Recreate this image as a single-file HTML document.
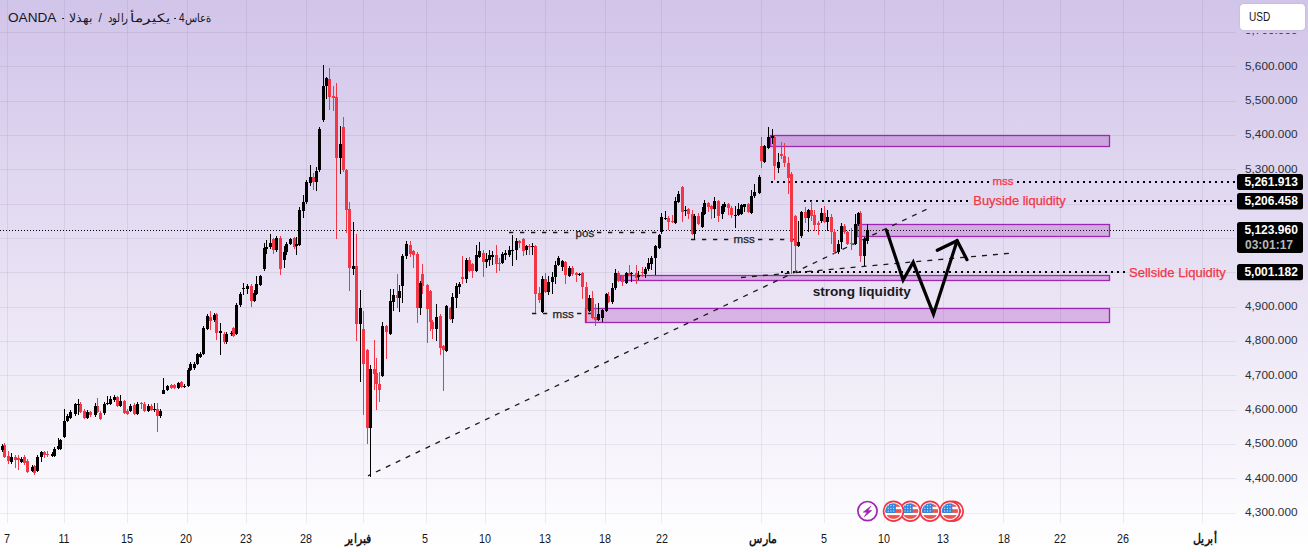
<!DOCTYPE html><html><head><meta charset="utf-8"><style>
html,body{margin:0;padding:0;width:1308px;height:552px;overflow:hidden;}
body{background:linear-gradient(to bottom, #d1c4e9 0%, #ffffff 100%);font-family:"Liberation Sans",sans-serif;position:relative;}
svg{position:absolute;left:0;top:0;}
.t{position:absolute;white-space:nowrap;line-height:1;}
</style></head><body>
<svg width="1308" height="552" viewBox="0 0 1308 552">
<path d="M0 32.5H1236 M0 66.5H1236 M0 101.5H1236 M0 135.5H1236 M0 169.5H1236 M0 204.5H1236 M0 238.5H1236 M0 272.5H1236 M0 307.5H1236 M0 341.5H1236 M0 375.5H1236 M0 410.5H1236 M0 444.5H1236 M0 478.5H1236 M0 513.5H1236 M7.5 0V523 M64.5 0V523 M127.5 0V523 M187.5 0V523 M246.5 0V523 M306.5 0V523 M363.5 0V523 M426.5 0V523 M485.5 0V523 M545.5 0V523 M605.5 0V523 M661.5 0V523 M761.5 0V523 M824.5 0V523 M884.5 0V523 M943.5 0V523 M1003.5 0V523 M1060.5 0V523 M1123.5 0V523 M1202.5 0V523" stroke="rgba(70,70,95,0.095)" stroke-width="1" fill="none"/>
<rect x="770.5" y="135.5" width="339.0" height="11.0" fill="rgba(156,39,176,0.26)" stroke="#9c27b0" stroke-width="1.3"/>
<rect x="857.5" y="224.5" width="252.0" height="12.0" fill="rgba(156,39,176,0.26)" stroke="#9c27b0" stroke-width="1.3"/>
<rect x="620.5" y="275.5" width="489.0" height="5.0" fill="rgba(156,39,176,0.26)" stroke="#9c27b0" stroke-width="1.3"/>
<rect x="585.5" y="308.5" width="524.0" height="14.0" fill="rgba(156,39,176,0.26)" stroke="#9c27b0" stroke-width="1.3"/>
<path d="M0 230.5H1235" stroke="#000" stroke-width="1" stroke-dasharray="1 2" fill="none" shape-rendering="crispEdges"/>
<path d="M771 182H990" stroke="#000" stroke-width="2" stroke-dasharray="2 4" fill="none" shape-rendering="crispEdges"/>
<path d="M1017 182H1236" stroke="#000" stroke-width="2" stroke-dasharray="2 4" fill="none" shape-rendering="crispEdges"/>
<path d="M804 201H968" stroke="#000" stroke-width="2" stroke-dasharray="2 4" fill="none" shape-rendering="crispEdges"/>
<path d="M1074 201H1233" stroke="#000" stroke-width="2" stroke-dasharray="2 4" fill="none" shape-rendering="crispEdges"/>
<path d="M781 272H1126" stroke="#000" stroke-width="2" stroke-dasharray="2 4" fill="none" shape-rendering="crispEdges"/>
<path d="M368 475.8L927 209.1" stroke="#1a1a1a" stroke-width="1.3" stroke-dasharray="5 6" stroke-dashoffset="2.24" fill="none"/>
<path d="M741 277.5L1009 253.3" stroke="#1a1a1a" stroke-width="1.3" stroke-dasharray="5 6" stroke-dashoffset="0" fill="none"/>
<path d="M509 232.5L571 232.5" stroke="#1a1a1a" stroke-width="1.3" stroke-dasharray="4.3 6.7" stroke-dashoffset="0" fill="none"/>
<path d="M597 232.5L659 232.5" stroke="#1a1a1a" stroke-width="1.3" stroke-dasharray="4.3 6.7" stroke-dashoffset="0" fill="none"/>
<path d="M532 313.5H548" stroke="#1a1a1a" stroke-width="1.3" stroke-dasharray="4.3 6.7" fill="none"/>
<path d="M577 313.5H592" stroke="#1a1a1a" stroke-width="1.3" stroke-dasharray="4.3 6.7" fill="none"/>
<path d="M691 239.5H729" stroke="#1a1a1a" stroke-width="1.3" stroke-dasharray="4.3 6.7" fill="none"/>
<path d="M758 239.5H795" stroke="#1a1a1a" stroke-width="1.3" stroke-dasharray="4.3 6.7" fill="none"/>
<path d="M4 443h1V458h-1Z M8 451h1V464h-1Z M15 455h1V468h-1Z M18 455h1V470h-1Z M24 455h1V465h-1Z M27 459h1V473h-1Z M34 465h1V475h-1Z M44 451h1V458h-1Z M47 451h1V457h-1Z M80 402h1V413h-1Z M84 409h1V419h-1Z M90 411h1V417h-1Z M97 398h1V413h-1Z M100 411h1V420h-1Z M117 396h1V407h-1Z M124 400h1V414h-1Z M127 409h1V415h-1Z M134 403h1V415h-1Z M141 402h1V409h-1Z M144 402h1V412h-1Z M151 404h1V411h-1Z M157 403h1V432h-1Z M171 384h1V389h-1Z M174 384h1V389h-1Z M181 381h1V388h-1Z M210 311h1V330h-1Z M216 313h1V340h-1Z M224 332h1V344h-1Z M233 327h1V337h-1Z M251 284h1V307h-1Z M273 238h1V254h-1Z M280 236h1V275h-1Z M294 237h1V249h-1Z M313 173h1V190h-1Z M329 68h1V110h-1Z M333 86h1V111h-1Z M336 83h1V239h-1Z M343 117h1V172h-1Z M346 169h1V233h-1Z M349 202h1V291h-1Z M356 234h1V341h-1Z M363 311h1V415h-1Z M367 349h1V444h-1Z M374 340h1V390h-1Z M376 358h1V410h-1Z M379 372h1V402h-1Z M386 325h1V359h-1Z M397 274h1V308h-1Z M410 241h1V257h-1Z M413 250h1V268h-1Z M417 252h1V323h-1Z M422 264h1V294h-1Z M427 284h1V343h-1Z M430 290h1V331h-1Z M432 320h1V339h-1Z M440 314h1V355h-1Z M443 345h1V391h-1Z M450 307h1V320h-1Z M462 256h1V284h-1Z M469 257h1V272h-1Z M472 263h1V278h-1Z M483 250h1V277h-1Z M496 245h1V273h-1Z M499 258h1V271h-1Z M519 240h1V248h-1Z M523 238h1V256h-1Z M529 244h1V255h-1Z M535 245h1V313h-1Z M539 287h1V303h-1Z M545 273h1V293h-1Z M565 261h1V284h-1Z M572 266h1V276h-1Z M576 272h1V282h-1Z M582 272h1V299h-1Z M586 282h1V322h-1Z M592 291h1V319h-1Z M595 304h1V326h-1Z M608 292h1V303h-1Z M618 271h1V282h-1Z M622 275h1V286h-1Z M629 265h1V276h-1Z M636 265h1V284h-1Z M642 267h1V277h-1Z M668 216h1V230h-1Z M672 215h1V223h-1Z M682 186h1V222h-1Z M688 208h1V219h-1Z M692 210h1V235h-1Z M698 213h1V225h-1Z M708 202h1V212h-1Z M711 205h1V219h-1Z M718 200h1V222h-1Z M728 203h1V215h-1Z M731 206h1V218h-1Z M748 203h1V213h-1Z M761 137h1V168h-1Z M774 136h1V180h-1Z M781 142h1V159h-1Z M784 143h1V167h-1Z M788 157h1V194h-1Z M791 172h1V274h-1Z M795 215h1V272h-1Z M805 207h1V223h-1Z M811 201h1V221h-1Z M814 210h1V231h-1Z M818 221h1V235h-1Z M824 206h1V223h-1Z M831 214h1V244h-1Z M834 229h1V254h-1Z M844 224h1V234h-1Z M847 231h1V245h-1Z M851 228h1V250h-1Z M860 211h1V262h-1Z M3 445h3V457h-3Z M7 456h3V461h-3Z M14 457h3V460h-3Z M17 458h3V460h-3Z M23 457h3V463h-3Z M26 461h3V472h-3Z M33 466h3V473h-3Z M43 452h3V455h-3Z M46 454h3V455h-3Z M79 404h3V412h-3Z M83 411h3V418h-3Z M89 412h3V415h-3Z M96 406h3V412h-3Z M99 413h3V419h-3Z M116 397h3V406h-3Z M123 401h3V413h-3Z M126 411h3V414h-3Z M133 405h3V414h-3Z M140 403h3V404h-3Z M143 404h3V411h-3Z M150 406h3V410h-3Z M156 409h3V416h-3Z M170 385h3V388h-3Z M173 385h3V388h-3Z M180 382h3V387h-3Z M209 317h3V321h-3Z M215 314h3V333h-3Z M223 334h3V342h-3Z M232 328h3V336h-3Z M250 286h3V301h-3Z M272 239h3V250h-3Z M279 238h3V269h-3Z M293 238h3V247h-3Z M312 177h3V182h-3Z M328 79h3V97h-3Z M332 96h3V98h-3Z M335 97h3V158h-3Z M342 127h3V170h-3Z M345 170h3V210h-3Z M348 209h3V268h-3Z M355 266h3V324h-3Z M362 329h3V364h-3Z M366 350h3V428h-3Z M373 369h3V374h-3Z M375 373h3V384h-3Z M378 384h3V390h-3Z M385 326h3V332h-3Z M396 295h3V298h-3Z M409 245h3V254h-3Z M412 251h3V255h-3Z M416 254h3V308h-3Z M421 274h3V286h-3Z M426 285h3V309h-3Z M429 291h3V322h-3Z M431 322h3V329h-3Z M439 316h3V348h-3Z M442 346h3V350h-3Z M449 308h3V319h-3Z M461 277h3V279h-3Z M468 260h3V271h-3Z M471 264h3V271h-3Z M482 253h3V262h-3Z M495 255h3V264h-3Z M498 263h3V264h-3Z M518 241h3V243h-3Z M522 239h3V251h-3Z M528 246h3V247h-3Z M534 246h3V294h-3Z M538 293h3V300h-3Z M544 279h3V292h-3Z M564 262h3V275h-3Z M571 268h3V274h-3Z M575 273h3V275h-3Z M581 273h3V287h-3Z M585 287h3V308h-3Z M591 298h3V318h-3Z M594 317h3V320h-3Z M607 296h3V302h-3Z M617 273h3V281h-3Z M621 276h3V282h-3Z M628 273h3V275h-3Z M635 273h3V278h-3Z M641 272h3V273h-3Z M667 218h3V222h-3Z M671 221h3V222h-3Z M681 187h3V212h-3Z M687 209h3V214h-3Z M691 214h3V234h-3Z M697 216h3V224h-3Z M707 203h3V207h-3Z M710 206h3V209h-3Z M717 201h3V216h-3Z M727 204h3V208h-3Z M730 208h3V215h-3Z M747 204h3V212h-3Z M760 146h3V161h-3Z M773 137h3V166h-3Z M780 154h3V156h-3Z M783 156h3V163h-3Z M787 163h3V178h-3Z M790 174h3V242h-3Z M794 216h3V246h-3Z M804 212h3V218h-3Z M810 210h3V216h-3Z M813 215h3V225h-3Z M817 223h3V225h-3Z M823 213h3V222h-3Z M830 217h3V232h-3Z M833 232h3V252h-3Z M843 226h3V232h-3Z M846 232h3V244h-3Z M850 243h3V244h-3Z M859 213h3V256h-3Z" fill="#f23645" shape-rendering="crispEdges"/>
<path d="M2 444h1V452h-1Z M11 453h1V464h-1Z M21 457h1V463h-1Z M32 465h1V472h-1Z M37 455h1V472h-1Z M41 451h1V462h-1Z M52 452h1V457h-1Z M54 447h1V457h-1Z M58 438h1V450h-1Z M60 439h1V450h-1Z M64 409h1V438h-1Z M67 414h1V422h-1Z M70 410h1V419h-1Z M75 403h1V416h-1Z M78 399h1V415h-1Z M87 410h1V419h-1Z M95 403h1V417h-1Z M104 402h1V415h-1Z M107 396h1V405h-1Z M110 396h1V405h-1Z M114 395h1V402h-1Z M120 395h1V407h-1Z M130 404h1V412h-1Z M137 402h1V415h-1Z M148 404h1V412h-1Z M154 403h1V412h-1Z M160 409h1V418h-1Z M163 378h1V394h-1Z M167 385h1V391h-1Z M178 382h1V389h-1Z M184 384h1V388h-1Z M188 368h1V387h-1Z M190 362h1V371h-1Z M194 362h1V370h-1Z M197 353h1V365h-1Z M200 352h1V358h-1Z M203 326h1V355h-1Z M207 314h1V330h-1Z M214 313h1V322h-1Z M220 323h1V355h-1Z M226 332h1V344h-1Z M231 331h1V336h-1Z M236 303h1V335h-1Z M240 292h1V307h-1Z M243 283h1V295h-1Z M247 284h1V294h-1Z M254 290h1V302h-1Z M256 276h1V295h-1Z M260 275h1V286h-1Z M264 243h1V271h-1Z M266 240h1V254h-1Z M270 234h1V249h-1Z M276 236h1V252h-1Z M284 246h1V268h-1Z M286 242h1V255h-1Z M290 238h1V245h-1Z M296 237h1V255h-1Z M299 207h1V246h-1Z M303 195h1V218h-1Z M306 180h1V204h-1Z M310 165h1V186h-1Z M316 167h1V191h-1Z M319 127h1V172h-1Z M323 65h1V122h-1Z M326 77h1V99h-1Z M340 126h1V174h-1Z M353 222h1V275h-1Z M360 290h1V382h-1Z M370 365h1V477h-1Z M382 322h1V377h-1Z M390 289h1V335h-1Z M393 289h1V311h-1Z M399 285h1V312h-1Z M402 254h1V303h-1Z M406 241h1V259h-1Z M420 281h1V315h-1Z M436 304h1V341h-1Z M446 305h1V352h-1Z M452 293h1V323h-1Z M456 283h1V308h-1Z M459 282h1V294h-1Z M466 258h1V283h-1Z M476 245h1V272h-1Z M479 242h1V258h-1Z M486 253h1V268h-1Z M489 250h1V266h-1Z M492 251h1V265h-1Z M502 252h1V264h-1Z M505 250h1V260h-1Z M509 246h1V257h-1Z M512 235h1V266h-1Z M516 238h1V260h-1Z M526 245h1V255h-1Z M532 243h1V255h-1Z M542 276h1V313h-1Z M548 276h1V295h-1Z M552 272h1V294h-1Z M555 261h1V284h-1Z M558 256h1V266h-1Z M562 260h1V271h-1Z M569 266h1V277h-1Z M579 273h1V276h-1Z M589 295h1V312h-1Z M598 303h1V321h-1Z M602 309h1V322h-1Z M606 293h1V312h-1Z M612 283h1V304h-1Z M615 269h1V290h-1Z M626 272h1V284h-1Z M631 272h1V282h-1Z M638 271h1V280h-1Z M645 267h1V278h-1Z M648 258h1V271h-1Z M651 256h1V270h-1Z M655 245h1V275h-1Z M659 234h1V249h-1Z M661 213h1V234h-1Z M665 211h1V220h-1Z M675 197h1V224h-1Z M678 191h1V203h-1Z M685 206h1V216h-1Z M694 214h1V239h-1Z M702 207h1V228h-1Z M704 200h1V215h-1Z M714 197h1V218h-1Z M722 204h1V219h-1Z M724 202h1V212h-1Z M735 206h1V228h-1Z M738 203h1V216h-1Z M741 204h1V215h-1Z M744 204h1V212h-1Z M751 190h1V214h-1Z M754 184h1V198h-1Z M759 175h1V194h-1Z M764 145h1V163h-1Z M768 127h1V149h-1Z M772 129h1V144h-1Z M778 153h1V173h-1Z M798 221h1V247h-1Z M801 211h1V238h-1Z M808 209h1V232h-1Z M821 208h1V223h-1Z M827 210h1V231h-1Z M838 240h1V254h-1Z M841 223h1V249h-1Z M855 214h1V245h-1Z M858 212h1V226h-1Z M864 237h1V266h-1Z M867 224h1V244h-1Z M1 446h3V450h-3Z M10 457h3V462h-3Z M20 459h3V462h-3Z M31 467h3V471h-3Z M36 457h3V471h-3Z M40 452h3V457h-3Z M51 454h3V456h-3Z M53 449h3V456h-3Z M57 446h3V449h-3Z M59 440h3V449h-3Z M63 421h3V437h-3Z M66 416h3V421h-3Z M69 412h3V418h-3Z M74 404h3V414h-3Z M77 404h3V405h-3Z M86 412h3V418h-3Z M94 406h3V415h-3Z M103 404h3V413h-3Z M106 403h3V404h-3Z M109 399h3V404h-3Z M113 397h3V400h-3Z M119 401h3V406h-3Z M129 406h3V411h-3Z M136 404h3V414h-3Z M147 406h3V411h-3Z M153 409h3V410h-3Z M159 411h3V416h-3Z M162 390h3V394h-3Z M166 386h3V390h-3Z M177 383h3V388h-3Z M183 386h3V387h-3Z M187 370h3V386h-3Z M189 364h3V370h-3Z M193 364h3V368h-3Z M196 354h3V364h-3Z M199 354h3V357h-3Z M202 328h3V354h-3Z M206 316h3V329h-3Z M213 315h3V320h-3Z M219 331h3V333h-3Z M225 334h3V342h-3Z M230 333h3V334h-3Z M235 305h3V334h-3Z M239 294h3V305h-3Z M242 288h3V289h-3Z M246 286h3V289h-3Z M253 293h3V301h-3Z M255 284h3V294h-3Z M259 276h3V285h-3Z M263 248h3V269h-3Z M265 247h3V249h-3Z M269 243h3V247h-3Z M275 238h3V250h-3Z M283 252h3V260h-3Z M285 244h3V252h-3Z M289 239h3V244h-3Z M295 244h3V246h-3Z M298 210h3V245h-3Z M302 202h3V211h-3Z M305 182h3V202h-3Z M309 177h3V183h-3Z M315 171h3V182h-3Z M318 129h3V170h-3Z M322 86h3V120h-3Z M325 78h3V86h-3Z M339 144h3V158h-3Z M352 266h3V269h-3Z M359 308h3V324h-3Z M369 369h3V428h-3Z M381 326h3V376h-3Z M389 301h3V334h-3Z M392 295h3V302h-3Z M398 291h3V298h-3Z M401 256h3V286h-3Z M405 244h3V256h-3Z M419 283h3V308h-3Z M435 317h3V329h-3Z M445 306h3V351h-3Z M451 297h3V319h-3Z M455 286h3V298h-3Z M458 284h3V287h-3Z M465 260h3V279h-3Z M475 255h3V271h-3Z M478 251h3V257h-3Z M485 259h3V262h-3Z M488 255h3V260h-3Z M491 255h3V257h-3Z M501 254h3V263h-3Z M504 253h3V255h-3Z M508 250h3V255h-3Z M511 250h3V251h-3Z M515 241h3V250h-3Z M525 246h3V250h-3Z M531 246h3V247h-3Z M541 279h3V312h-3Z M547 282h3V292h-3Z M551 277h3V282h-3Z M554 265h3V277h-3Z M557 258h3V265h-3Z M561 261h3V267h-3Z M568 268h3V276h-3Z M578 274h3V275h-3Z M588 298h3V311h-3Z M597 314h3V320h-3Z M601 310h3V318h-3Z M605 294h3V311h-3Z M611 288h3V302h-3Z M614 273h3V288h-3Z M625 273h3V283h-3Z M630 273h3V274h-3Z M637 275h3V277h-3Z M644 269h3V274h-3Z M647 263h3V269h-3Z M650 258h3V264h-3Z M654 246h3V258h-3Z M658 235h3V248h-3Z M660 217h3V232h-3Z M664 218h3V219h-3Z M674 201h3V223h-3Z M677 194h3V202h-3Z M684 210h3V211h-3Z M693 216h3V234h-3Z M701 212h3V227h-3Z M703 203h3V214h-3Z M713 201h3V209h-3Z M721 206h3V214h-3Z M723 204h3V207h-3Z M734 215h3V216h-3Z M737 209h3V215h-3Z M740 205h3V214h-3Z M743 204h3V207h-3Z M750 196h3V213h-3Z M753 192h3V196h-3Z M758 177h3V193h-3Z M763 146h3V162h-3Z M767 137h3V148h-3Z M771 136h3V138h-3Z M777 162h3V168h-3Z M797 242h3V246h-3Z M800 212h3V236h-3Z M807 210h3V218h-3Z M820 213h3V221h-3Z M826 217h3V222h-3Z M837 244h3V252h-3Z M840 226h3V242h-3Z M854 224h3V244h-3Z M857 213h3V224h-3Z M863 239h3V256h-3Z M866 230h3V241h-3Z" fill="#000" shape-rendering="crispEdges"/>
<path d="M886.6 230.6L903.1 280L913.2 262.3L933.5 314.2L957.1 240.7" stroke="#000" stroke-width="3.2" fill="none" stroke-linejoin="miter" stroke-linecap="round"/>
<path d="M937.3 250.3L957.1 240.7L967 259.7" stroke="#000" stroke-width="3.2" fill="none" stroke-linecap="round"/>
<circle cx="867.5" cy="511.1" r="9.6" fill="#fff" stroke="#9c27b0" stroke-width="1.7"/>
<path d="M870.9 506.1L863.1 512.2L866.9 512.2L864.2 516.9L871.9 510.4L868.2 510.4Z" fill="#9c27b0" stroke="#9c27b0" stroke-width="0.5" stroke-linejoin="round"/>
<defs><clipPath id="fc"><circle cx="0" cy="0" r="8"/></clipPath></defs>
<g transform="translate(953.2 511.2)"><circle r="9.9" fill="#fff" stroke="#f23645" stroke-width="1.7"/><g clip-path="url(#fc)"><rect x="-9" y="-9" width="18" height="18" fill="#fff"/><rect x="-9" y="-7" width="18" height="2.6" fill="#ef5350"/><rect x="-9" y="-2" width="18" height="3.7" fill="#ef5350"/><rect x="-9" y="3.9" width="18" height="3.7" fill="#ef5350"/><rect x="-9" y="-9" width="11.4" height="10.7" fill="#2b87e3"/><rect x="-5.8" y="-6.1" width="1.1" height="1.1" fill="#fff" opacity="0.85"/><rect x="-5.8" y="-3.4" width="1.1" height="1.1" fill="#fff" opacity="0.85"/><rect x="-5.8" y="-0.7" width="1.1" height="1.1" fill="#fff" opacity="0.85"/><rect x="-3.1" y="-6.1" width="1.1" height="1.1" fill="#fff" opacity="0.85"/><rect x="-3.1" y="-3.4" width="1.1" height="1.1" fill="#fff" opacity="0.85"/><rect x="-3.1" y="-0.7" width="1.1" height="1.1" fill="#fff" opacity="0.85"/><rect x="-0.4" y="-6.1" width="1.1" height="1.1" fill="#fff" opacity="0.85"/><rect x="-0.4" y="-3.4" width="1.1" height="1.1" fill="#fff" opacity="0.85"/><rect x="-0.4" y="-0.7" width="1.1" height="1.1" fill="#fff" opacity="0.85"/></g></g>
<g transform="translate(949.9 511.2)"><circle r="9.9" fill="#fff" stroke="#f23645" stroke-width="1.7"/><g clip-path="url(#fc)"><rect x="-9" y="-9" width="18" height="18" fill="#fff"/><rect x="-9" y="-7" width="18" height="2.6" fill="#ef5350"/><rect x="-9" y="-2" width="18" height="3.7" fill="#ef5350"/><rect x="-9" y="3.9" width="18" height="3.7" fill="#ef5350"/><rect x="-9" y="-9" width="11.4" height="10.7" fill="#2b87e3"/><rect x="-5.8" y="-6.1" width="1.1" height="1.1" fill="#fff" opacity="0.85"/><rect x="-5.8" y="-3.4" width="1.1" height="1.1" fill="#fff" opacity="0.85"/><rect x="-5.8" y="-0.7" width="1.1" height="1.1" fill="#fff" opacity="0.85"/><rect x="-3.1" y="-6.1" width="1.1" height="1.1" fill="#fff" opacity="0.85"/><rect x="-3.1" y="-3.4" width="1.1" height="1.1" fill="#fff" opacity="0.85"/><rect x="-3.1" y="-0.7" width="1.1" height="1.1" fill="#fff" opacity="0.85"/><rect x="-0.4" y="-6.1" width="1.1" height="1.1" fill="#fff" opacity="0.85"/><rect x="-0.4" y="-3.4" width="1.1" height="1.1" fill="#fff" opacity="0.85"/><rect x="-0.4" y="-0.7" width="1.1" height="1.1" fill="#fff" opacity="0.85"/></g></g>
<g transform="translate(930.1 511.2)"><circle r="9.9" fill="#fff" stroke="#f23645" stroke-width="1.7"/><g clip-path="url(#fc)"><rect x="-9" y="-9" width="18" height="18" fill="#fff"/><rect x="-9" y="-7" width="18" height="2.6" fill="#ef5350"/><rect x="-9" y="-2" width="18" height="3.7" fill="#ef5350"/><rect x="-9" y="3.9" width="18" height="3.7" fill="#ef5350"/><rect x="-9" y="-9" width="11.4" height="10.7" fill="#2b87e3"/><rect x="-5.8" y="-6.1" width="1.1" height="1.1" fill="#fff" opacity="0.85"/><rect x="-5.8" y="-3.4" width="1.1" height="1.1" fill="#fff" opacity="0.85"/><rect x="-5.8" y="-0.7" width="1.1" height="1.1" fill="#fff" opacity="0.85"/><rect x="-3.1" y="-6.1" width="1.1" height="1.1" fill="#fff" opacity="0.85"/><rect x="-3.1" y="-3.4" width="1.1" height="1.1" fill="#fff" opacity="0.85"/><rect x="-3.1" y="-0.7" width="1.1" height="1.1" fill="#fff" opacity="0.85"/><rect x="-0.4" y="-6.1" width="1.1" height="1.1" fill="#fff" opacity="0.85"/><rect x="-0.4" y="-3.4" width="1.1" height="1.1" fill="#fff" opacity="0.85"/><rect x="-0.4" y="-0.7" width="1.1" height="1.1" fill="#fff" opacity="0.85"/></g></g>
<g transform="translate(910.3 511.2)"><circle r="9.9" fill="#fff" stroke="#f23645" stroke-width="1.7"/><g clip-path="url(#fc)"><rect x="-9" y="-9" width="18" height="18" fill="#fff"/><rect x="-9" y="-7" width="18" height="2.6" fill="#ef5350"/><rect x="-9" y="-2" width="18" height="3.7" fill="#ef5350"/><rect x="-9" y="3.9" width="18" height="3.7" fill="#ef5350"/><rect x="-9" y="-9" width="11.4" height="10.7" fill="#2b87e3"/><rect x="-5.8" y="-6.1" width="1.1" height="1.1" fill="#fff" opacity="0.85"/><rect x="-5.8" y="-3.4" width="1.1" height="1.1" fill="#fff" opacity="0.85"/><rect x="-5.8" y="-0.7" width="1.1" height="1.1" fill="#fff" opacity="0.85"/><rect x="-3.1" y="-6.1" width="1.1" height="1.1" fill="#fff" opacity="0.85"/><rect x="-3.1" y="-3.4" width="1.1" height="1.1" fill="#fff" opacity="0.85"/><rect x="-3.1" y="-0.7" width="1.1" height="1.1" fill="#fff" opacity="0.85"/><rect x="-0.4" y="-6.1" width="1.1" height="1.1" fill="#fff" opacity="0.85"/><rect x="-0.4" y="-3.4" width="1.1" height="1.1" fill="#fff" opacity="0.85"/><rect x="-0.4" y="-0.7" width="1.1" height="1.1" fill="#fff" opacity="0.85"/></g></g>
<g transform="translate(893.5 511.2)"><circle r="9.9" fill="#fff" stroke="#f23645" stroke-width="1.7"/><g clip-path="url(#fc)"><rect x="-9" y="-9" width="18" height="18" fill="#fff"/><rect x="-9" y="-7" width="18" height="2.6" fill="#ef5350"/><rect x="-9" y="-2" width="18" height="3.7" fill="#ef5350"/><rect x="-9" y="3.9" width="18" height="3.7" fill="#ef5350"/><rect x="-9" y="-9" width="11.4" height="10.7" fill="#2b87e3"/><rect x="-5.8" y="-6.1" width="1.1" height="1.1" fill="#fff" opacity="0.85"/><rect x="-5.8" y="-3.4" width="1.1" height="1.1" fill="#fff" opacity="0.85"/><rect x="-5.8" y="-0.7" width="1.1" height="1.1" fill="#fff" opacity="0.85"/><rect x="-3.1" y="-6.1" width="1.1" height="1.1" fill="#fff" opacity="0.85"/><rect x="-3.1" y="-3.4" width="1.1" height="1.1" fill="#fff" opacity="0.85"/><rect x="-3.1" y="-0.7" width="1.1" height="1.1" fill="#fff" opacity="0.85"/><rect x="-0.4" y="-6.1" width="1.1" height="1.1" fill="#fff" opacity="0.85"/><rect x="-0.4" y="-3.4" width="1.1" height="1.1" fill="#fff" opacity="0.85"/><rect x="-0.4" y="-0.7" width="1.1" height="1.1" fill="#fff" opacity="0.85"/></g></g>
<rect x="1237" y="174" width="66" height="16" rx="2.5" fill="#000"/>
<rect x="1237" y="193" width="66" height="16.599999999999994" rx="2.5" fill="#000"/>
<rect x="1237" y="222" width="66" height="31" rx="2.5" fill="#000"/>
<rect x="1237" y="264" width="66" height="16.19999999999999" rx="2.5" fill="#000"/>
</svg>
<div class="t" style="left:8px;top:18px;transform:translateY(-50%);font-size:13.6px;color:#131722;font-weight:normal;">OANDA</div>
<div style="position:absolute;left:61.5px;top:17.5px;width:2.5px;height:1.2px;background:#222;"></div>
<div class="t hdr" style="left:69px;top:18px;transform:translateY(-50%) scaleX(1.04);transform-origin:left center;font-size:12px;color:#131722;"><bdo dir="ltr">الذهب</bdo></div>
<div class="t hdr" style="left:98.5px;top:18px;transform:translateY(-50%) scaleX(1.0);transform-origin:left center;font-size:12px;color:#131722;"><bdo dir="ltr">/</bdo></div>
<div class="t hdr" style="left:107.7px;top:18px;transform:translateY(-50%) scaleX(0.84);transform-origin:left center;font-size:12px;color:#131722;"><bdo dir="ltr">دولار</bdo></div>
<div class="t hdr" style="left:130.4px;top:18px;transform:translateY(-50%) scaleX(1.28);transform-origin:left center;font-size:12px;color:#131722;"><bdo dir="ltr">أمريكي</bdo></div>
<div class="t hdr" style="left:179px;top:18px;transform:translateY(-50%) scaleX(0.835);transform-origin:left center;font-size:12px;color:#131722;"><bdo dir="ltr">4ساعة</bdo></div>
<div style="position:absolute;left:173.5px;top:17.5px;width:2.5px;height:1.2px;background:#222;"></div>
<div class="t" style="right:10.5px;top:66.5px;transform:translateY(-50%);font-size:11.8px;color:#2a2e39;font-weight:normal;">5,600.000</div>
<div class="t" style="right:10.5px;top:100.857px;transform:translateY(-50%);font-size:11.8px;color:#2a2e39;font-weight:normal;">5,500.000</div>
<div class="t" style="right:10.5px;top:135.214px;transform:translateY(-50%);font-size:11.8px;color:#2a2e39;font-weight:normal;">5,400.000</div>
<div class="t" style="right:10.5px;top:169.571px;transform:translateY(-50%);font-size:11.8px;color:#2a2e39;font-weight:normal;">5,300.000</div>
<div class="t" style="right:10.5px;top:306.999px;transform:translateY(-50%);font-size:11.8px;color:#2a2e39;font-weight:normal;">4,900.000</div>
<div class="t" style="right:10.5px;top:341.356px;transform:translateY(-50%);font-size:11.8px;color:#2a2e39;font-weight:normal;">4,800.000</div>
<div class="t" style="right:10.5px;top:375.71299999999997px;transform:translateY(-50%);font-size:11.8px;color:#2a2e39;font-weight:normal;">4,700.000</div>
<div class="t" style="right:10.5px;top:410.07px;transform:translateY(-50%);font-size:11.8px;color:#2a2e39;font-weight:normal;">4,600.000</div>
<div class="t" style="right:10.5px;top:444.42699999999996px;transform:translateY(-50%);font-size:11.8px;color:#2a2e39;font-weight:normal;">4,500.000</div>
<div class="t" style="right:10.5px;top:478.784px;transform:translateY(-50%);font-size:11.8px;color:#2a2e39;font-weight:normal;">4,400.000</div>
<div class="t" style="right:10.5px;top:513.141px;transform:translateY(-50%);font-size:11.8px;color:#2a2e39;font-weight:normal;">4,300.000</div>
<div style="position:absolute;left:1236px;top:32.5px;width:72px;height:12px;overflow:hidden;"><div class="t" style="right:10.5px;top:-1.5px;transform:translateY(-50%);font-size:11.8px;color:#2a2e39;">5,700.000</div></div>
<div style="position:absolute;left:1239.5px;top:3.6px;width:65px;height:26px;background:#fff;border-radius:4px;box-shadow:0 0 2px rgba(0,0,0,0.12);"></div>
<div class="t" style="left:1249px;top:17.4px;transform:translateY(-50%);font-size:12px;color:#131722;font-weight:normal;transform:translateY(-50%) scaleX(0.84);transform-origin:left center;">USD</div>
<div class="t" style="right:10.200000000000045px;top:182.2px;transform:translateY(-50%);font-size:12px;color:#fff;font-weight:bold;">5,261.913</div>
<div class="t" style="right:10.200000000000045px;top:201.3px;transform:translateY(-50%);font-size:12px;color:#fff;font-weight:bold;">5,206.458</div>
<div class="t" style="right:10.200000000000045px;top:229.8px;transform:translateY(-50%);font-size:12px;color:#fff;font-weight:bold;">5,123.960</div>
<div class="t" style="left:1245px;top:244.5px;transform:translateY(-50%);font-size:12px;color:#b8b8b8;font-weight:bold;">03:01:17</div>
<div class="t" style="right:10.200000000000045px;top:272.2px;transform:translateY(-50%);font-size:12px;color:#fff;font-weight:bold;">5,001.182</div>
<div class="t" style="left:1003px;top:182.2px;transform:translate(-50%,-50%);font-size:11.5px;color:#f23645;font-weight:normal;transform:translate(-50%,-50%);-webkit-text-stroke:0.25px #f23645;">mss</div>
<div class="t" style="left:973.3px;top:201px;transform:translateY(-50%);font-size:12.9px;color:#f23645;font-weight:normal;-webkit-text-stroke:0.25px #f23645;">Buyside liquidity</div>
<div class="t" style="left:1129px;top:271.6px;transform:translateY(-50%);font-size:13px;color:#f23645;font-weight:normal;-webkit-text-stroke:0.25px #f23645;">Sellside Liquidity</div>
<div class="t" style="left:575.5px;top:232.5px;transform:translateY(-50%);font-size:11.6px;color:#1e1e1e;font-weight:normal;-webkit-text-stroke:0.25px #1e1e1e;">pos</div>
<div class="t" style="left:552.6px;top:313.5px;transform:translateY(-50%);font-size:11.6px;color:#1e1e1e;font-weight:normal;-webkit-text-stroke:0.25px #1e1e1e;">mss</div>
<div class="t" style="left:733.5px;top:239.3px;transform:translateY(-50%);font-size:11.6px;color:#1e1e1e;font-weight:normal;-webkit-text-stroke:0.25px #1e1e1e;">mss</div>
<div class="t" style="left:812.7px;top:291.5px;transform:translateY(-50%);font-size:13.6px;color:#1a1a1a;font-weight:bold;">strong liquidity</div>
<div class="t" style="left:7.3px;top:538.5px;transform:translate(-50%,-50%);font-size:12.8px;color:#131722;font-weight:normal;transform:translate(-50%,-50%) scaleX(0.84);">7</div>
<div class="t" style="left:63.6px;top:538.5px;transform:translate(-50%,-50%);font-size:12.8px;color:#131722;font-weight:normal;transform:translate(-50%,-50%) scaleX(0.84);">11</div>
<div class="t" style="left:126.7px;top:538.5px;transform:translate(-50%,-50%);font-size:12.8px;color:#131722;font-weight:normal;transform:translate(-50%,-50%) scaleX(0.84);">15</div>
<div class="t" style="left:186.4px;top:538.5px;transform:translate(-50%,-50%);font-size:12.8px;color:#131722;font-weight:normal;transform:translate(-50%,-50%) scaleX(0.84);">20</div>
<div class="t" style="left:245.9px;top:538.5px;transform:translate(-50%,-50%);font-size:12.8px;color:#131722;font-weight:normal;transform:translate(-50%,-50%) scaleX(0.84);">23</div>
<div class="t" style="left:305.8px;top:538.5px;transform:translate(-50%,-50%);font-size:12.8px;color:#131722;font-weight:normal;transform:translate(-50%,-50%) scaleX(0.84);">28</div>
<div class="t" style="left:358px;top:538.5px;transform:translate(-50%,-50%);font-size:12.8px;color:#131722;font-weight:normal;transform:translate(-50%,-50%) scaleX(0.84);"><b>فبراير</b></div>
<div class="t" style="left:425.2px;top:538.5px;transform:translate(-50%,-50%);font-size:12.8px;color:#131722;font-weight:normal;transform:translate(-50%,-50%) scaleX(0.84);">5</div>
<div class="t" style="left:485.1px;top:538.5px;transform:translate(-50%,-50%);font-size:12.8px;color:#131722;font-weight:normal;transform:translate(-50%,-50%) scaleX(0.84);">10</div>
<div class="t" style="left:544.6px;top:538.5px;transform:translate(-50%,-50%);font-size:12.8px;color:#131722;font-weight:normal;transform:translate(-50%,-50%) scaleX(0.84);">13</div>
<div class="t" style="left:604.5px;top:538.5px;transform:translate(-50%,-50%);font-size:12.8px;color:#131722;font-weight:normal;transform:translate(-50%,-50%) scaleX(0.84);">18</div>
<div class="t" style="left:661.5px;top:538.5px;transform:translate(-50%,-50%);font-size:12.8px;color:#131722;font-weight:normal;transform:translate(-50%,-50%) scaleX(0.84);">22</div>
<div class="t" style="left:763px;top:538.5px;transform:translate(-50%,-50%);font-size:12.8px;color:#131722;font-weight:normal;transform:translate(-50%,-50%) scaleX(0.84);"><b>مارس</b></div>
<div class="t" style="left:823.5px;top:538.5px;transform:translate(-50%,-50%);font-size:12.8px;color:#131722;font-weight:normal;transform:translate(-50%,-50%) scaleX(0.84);">5</div>
<div class="t" style="left:884px;top:538.5px;transform:translate(-50%,-50%);font-size:12.8px;color:#131722;font-weight:normal;transform:translate(-50%,-50%) scaleX(0.84);">10</div>
<div class="t" style="left:943.4px;top:538.5px;transform:translate(-50%,-50%);font-size:12.8px;color:#131722;font-weight:normal;transform:translate(-50%,-50%) scaleX(0.84);">13</div>
<div class="t" style="left:1003.5px;top:538.5px;transform:translate(-50%,-50%);font-size:12.8px;color:#131722;font-weight:normal;transform:translate(-50%,-50%) scaleX(0.84);">18</div>
<div class="t" style="left:1059.8px;top:538.5px;transform:translate(-50%,-50%);font-size:12.8px;color:#131722;font-weight:normal;transform:translate(-50%,-50%) scaleX(0.84);">22</div>
<div class="t" style="left:1122.7px;top:538.5px;transform:translate(-50%,-50%);font-size:12.8px;color:#131722;font-weight:normal;transform:translate(-50%,-50%) scaleX(0.84);">26</div>
<div class="t" style="left:1204.6px;top:538.5px;transform:translate(-50%,-50%);font-size:12.8px;color:#131722;font-weight:normal;transform:translate(-50%,-50%) scaleX(0.84);"><b>أبريل</b></div>
</body></html>
